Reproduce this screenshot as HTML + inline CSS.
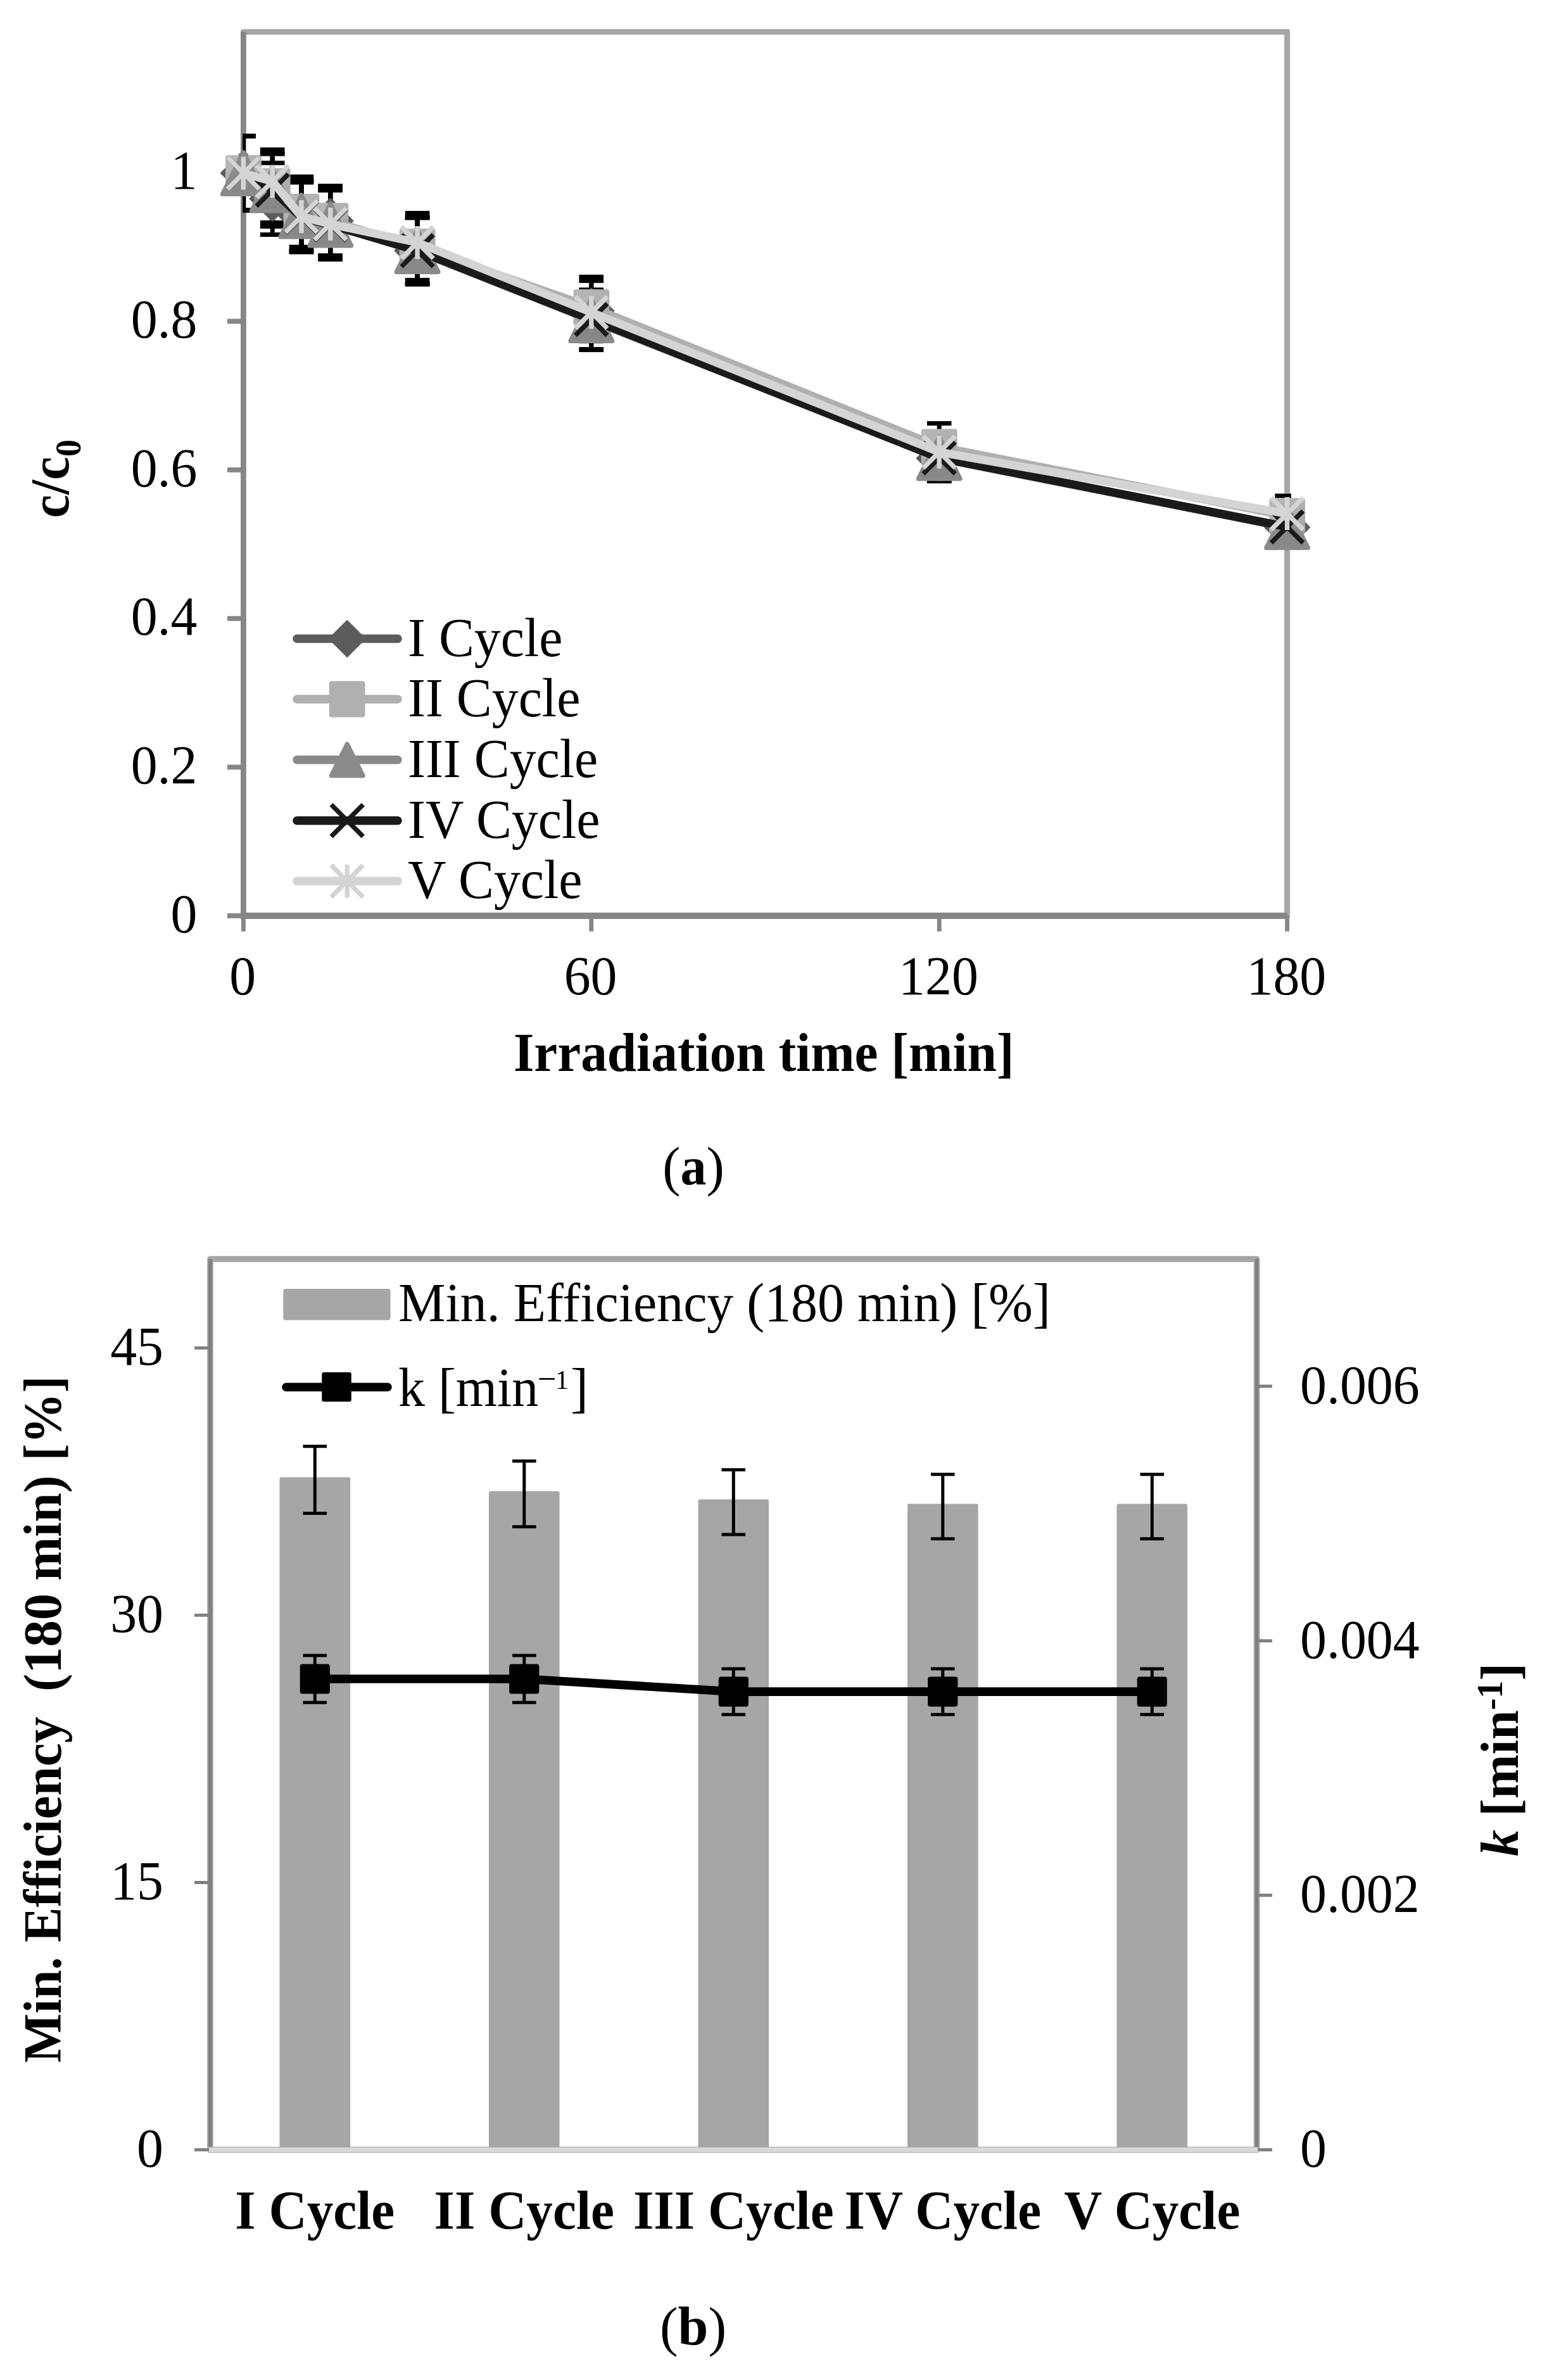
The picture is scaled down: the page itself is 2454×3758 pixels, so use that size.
<!DOCTYPE html>
<html lang="en">
<head>
<meta charset="utf-8">
<title>Figure: cycling stability</title>
<style>
html,body{margin:0;padding:0;background:#fff;}
svg{display:block;}
svg text{font-family:"Liberation Serif", "DejaVu Serif", serif;fill:#000;}
</style>
</head>
<body>
<svg width="2454" height="3758" viewBox="0 0 2454 3758">
<rect width="2454" height="3758" fill="#fff"/>
<g id="chartA">
<path d="M382.2 46.1H2034.9L2037.1 48.3V1448.5H2028.1V54.8H380V48.3Z" fill="#a6a6a6"/>
<line x1="384.4" y1="50.0" x2="384.4" y2="1450.9" stroke="#868686" stroke-width="8.8"/>
<line x1="380.0" y1="1446.0" x2="2032.9" y2="1446.0" stroke="#868686" stroke-width="9.8"/>
<line x1="359" y1="1446.0" x2="384.4" y2="1446.0" stroke="#868686" stroke-width="7.8"/>
<text transform="translate(311.5 1471.5) scale(0.975 1)" font-size="86" text-anchor="end">0</text>
<line x1="359" y1="1211.3" x2="384.4" y2="1211.3" stroke="#868686" stroke-width="7.8"/>
<text transform="translate(311.5 1236.8) scale(0.975 1)" font-size="86" text-anchor="end">0.2</text>
<line x1="359" y1="976.6" x2="384.4" y2="976.6" stroke="#868686" stroke-width="7.8"/>
<text transform="translate(311.5 1002.1) scale(0.975 1)" font-size="86" text-anchor="end">0.4</text>
<line x1="359" y1="742.0" x2="384.4" y2="742.0" stroke="#868686" stroke-width="7.8"/>
<text transform="translate(311.5 767.5) scale(0.975 1)" font-size="86" text-anchor="end">0.6</text>
<line x1="359" y1="507.3" x2="384.4" y2="507.3" stroke="#868686" stroke-width="7.8"/>
<text transform="translate(311.5 532.8) scale(0.975 1)" font-size="86" text-anchor="end">0.8</text>
<line x1="359" y1="272.6" x2="384.4" y2="272.6" stroke="#868686" stroke-width="7.8"/>
<text transform="translate(311.5 298.1) scale(0.975 1)" font-size="86" text-anchor="end">1</text>
<line x1="384.4" y1="1446.0" x2="384.4" y2="1470.7" stroke="#868686" stroke-width="6.9"/>
<text transform="translate(383.2 1570.3) scale(0.975 1)" font-size="86" text-anchor="middle">0</text>
<line x1="933.8" y1="1446.0" x2="933.8" y2="1470.7" stroke="#868686" stroke-width="6.9"/>
<text transform="translate(932.6 1570.3) scale(0.975 1)" font-size="86" text-anchor="middle">60</text>
<line x1="1483.2" y1="1446.0" x2="1483.2" y2="1470.7" stroke="#868686" stroke-width="6.9"/>
<text transform="translate(1482.0 1570.3) scale(0.975 1)" font-size="86" text-anchor="middle">120</text>
<line x1="2032.6" y1="1446.0" x2="2032.6" y2="1470.7" stroke="#868686" stroke-width="6.9"/>
<text transform="translate(2031.4 1570.3) scale(0.975 1)" font-size="86" text-anchor="middle">180</text>
<text transform="translate(1206.2 1690.7) scale(0.968 1)" font-size="86" text-anchor="middle" font-weight="bold">Irradiation time [min]</text>
<text transform="translate(108.1 756.0) rotate(-90) scale(0.968 1)" font-size="86" text-anchor="middle" font-weight="bold">c/c<tspan font-size="56" dy="19">0</tspan></text>
<defs>
<clipPath id="clipA"><rect x="383" y="50.4" width="1656" height="1395.6"/></clipPath>
<linearGradient id="gSq" x1="0" y1="0" x2="1" y2="1"><stop offset="0" stop-color="#b8b8b8"/><stop offset="0.55" stop-color="#b0b0b0"/><stop offset="1" stop-color="#a4a4a4"/></linearGradient>
<linearGradient id="gTr" x1="0" y1="0" x2="0" y2="1"><stop offset="0" stop-color="#909090"/><stop offset="1" stop-color="#868686"/></linearGradient>
</defs>
<g clip-path="url(#clipA)" stroke="#000" stroke-width="7" fill="none">
<path d="M365.1 214.8H403.7M384.4 214.8V332.0M365.1 332.0H403.7"/>
<path d="M410.9 257.2H449.5M430.2 257.2V370.4M410.9 370.4H449.5"/>
<path d="M456.7 285.8H495.3M476.0 285.8V396.2M456.7 396.2H495.3"/>
<path d="M502.4 293.9H541.0M521.8 293.9V403.7M502.4 403.7H541.0"/>
<path d="M639.8 343.3H678.4M659.1 343.3V448.3M639.8 448.3H678.4"/>
<path d="M914.5 443.2H953.1M933.8 443.2V538.8M914.5 538.8H953.1"/>
<path d="M1463.9 687.5H1502.5M1483.2 687.5V759.7M1463.9 759.7H1502.5"/>
<path d="M2013.3 801.9H2051.9M2032.6 801.9V863.3M2013.3 863.3H2051.9"/>
<path d="M365.1 214.8H403.7M384.4 214.8V332.0M365.1 332.0H403.7"/>
<path d="M410.9 236.2H449.5M430.2 236.2V351.4M410.9 351.4H449.5"/>
<path d="M456.7 278.9H495.3M476.0 278.9V390.1M456.7 390.1H495.3"/>
<path d="M502.4 293.7H541.0M521.8 293.7V403.5M502.4 403.5H541.0"/>
<path d="M639.8 336.6H678.4M659.1 336.6V442.2M639.8 442.2H678.4"/>
<path d="M914.5 437.2H953.1M933.8 437.2V533.2M914.5 533.2H953.1"/>
<path d="M1463.9 668.6H1502.5M1483.2 668.6V742.6M1463.9 742.6H1502.5"/>
<path d="M2013.3 783.0H2051.9M2032.6 783.0V846.2M2013.3 846.2H2051.9"/>
<path d="M365.1 214.8H403.7M384.4 214.8V332.0M365.1 332.0H403.7"/>
<path d="M410.9 242.6H449.5M430.2 242.6V357.2M410.9 357.2H449.5"/>
<path d="M456.7 285.6H495.3M476.0 285.6V396.2M456.7 396.2H495.3"/>
<path d="M502.4 300.3H541.0M521.8 300.3V409.5M502.4 409.5H541.0"/>
<path d="M639.8 343.9H678.4M659.1 343.9V448.9M639.8 448.9H678.4"/>
<path d="M914.5 458.4H953.1M933.8 458.4V552.4M914.5 552.4H953.1"/>
<path d="M1463.9 686.7H1502.5M1483.2 686.7V759.1M1463.9 759.1H1502.5"/>
<path d="M2013.3 801.4H2051.9M2032.6 801.4V862.8M2013.3 862.8H2051.9"/>
<path d="M365.1 214.8H403.7M384.4 214.8V332.0M365.1 332.0H403.7"/>
<path d="M410.9 242.9H449.5M430.2 242.9V357.5M410.9 357.5H449.5"/>
<path d="M456.7 287.9H495.3M476.0 287.9V398.1M456.7 398.1H495.3"/>
<path d="M502.4 300.4H541.0M521.8 300.4V409.6M502.4 409.6H541.0"/>
<path d="M639.8 343.3H678.4M659.1 343.3V448.3M639.8 448.3H678.4"/>
<path d="M914.5 457.4H953.1M933.8 457.4V551.6M914.5 551.6H953.1"/>
<path d="M1463.9 686.9H1502.5M1483.2 686.9V759.1M1463.9 759.1H1502.5"/>
<path d="M2013.3 801.3H2051.9M2032.6 801.3V862.7M2013.3 862.7H2051.9"/>
</g>
<polyline points="384.4,273.4 430.2,313.8 476.0,341.0 521.8,348.8 659.1,395.8 933.8,491.0 1483.2,723.6 2032.6,832.6" fill="none" stroke="#5c5c5c" stroke-width="13" stroke-linejoin="round" stroke-linecap="round"/>
<path d="M384.4 237.8L420.0 273.4L384.4 309.0L348.8 273.4Z" fill="#5c5c5c" stroke="#5c5c5c" stroke-width="2" stroke-linejoin="round"/>
<path d="M430.2 278.2L465.8 313.8L430.2 349.4L394.6 313.8Z" fill="#5c5c5c" stroke="#5c5c5c" stroke-width="2" stroke-linejoin="round"/>
<path d="M476.0 305.4L511.6 341.0L476.0 376.6L440.4 341.0Z" fill="#5c5c5c" stroke="#5c5c5c" stroke-width="2" stroke-linejoin="round"/>
<path d="M521.8 313.2L557.4 348.8L521.8 384.4L486.1 348.8Z" fill="#5c5c5c" stroke="#5c5c5c" stroke-width="2" stroke-linejoin="round"/>
<path d="M659.1 360.2L694.7 395.8L659.1 431.4L623.5 395.8Z" fill="#5c5c5c" stroke="#5c5c5c" stroke-width="2" stroke-linejoin="round"/>
<path d="M933.8 455.4L969.4 491.0L933.8 526.6L898.2 491.0Z" fill="#5c5c5c" stroke="#5c5c5c" stroke-width="2" stroke-linejoin="round"/>
<path d="M1483.2 688.0L1518.8 723.6L1483.2 759.2L1447.6 723.6Z" fill="#5c5c5c" stroke="#5c5c5c" stroke-width="2" stroke-linejoin="round"/>
<path d="M2032.6 797.0L2068.2 832.6L2032.6 868.2L1997.0 832.6Z" fill="#5c5c5c" stroke="#5c5c5c" stroke-width="2" stroke-linejoin="round"/>
<polyline points="384.4,273.4 430.2,293.8 476.0,334.5 521.8,348.6 659.1,389.4 933.8,485.2 1483.2,705.6 2032.6,814.6" fill="none" stroke="#b0b0b0" stroke-width="13" stroke-linejoin="round" stroke-linecap="round"/>
<rect x="356.0" y="245.0" width="56.8" height="56.8" rx="4" fill="url(#gSq)"/>
<rect x="401.8" y="265.4" width="56.8" height="56.8" rx="4" fill="url(#gSq)"/>
<rect x="447.6" y="306.1" width="56.8" height="56.8" rx="4" fill="url(#gSq)"/>
<rect x="493.4" y="320.2" width="56.8" height="56.8" rx="4" fill="url(#gSq)"/>
<rect x="630.7" y="361.0" width="56.8" height="56.8" rx="4" fill="url(#gSq)"/>
<rect x="905.4" y="456.8" width="56.8" height="56.8" rx="4" fill="url(#gSq)"/>
<rect x="1454.8" y="677.2" width="56.8" height="56.8" rx="4" fill="url(#gSq)"/>
<rect x="2004.2" y="786.2" width="56.8" height="56.8" rx="4" fill="url(#gSq)"/>
<polyline points="384.4,273.4 430.2,299.9 476.0,340.9 521.8,354.9 659.1,396.4 933.8,505.4 1483.2,722.9 2032.6,832.1" fill="none" stroke="#8a8a8a" stroke-width="13" stroke-linejoin="round" stroke-linecap="round"/>
<path d="M384.4 240.4L417.4 306.4H351.4Z" fill="url(#gTr)" stroke="#8a8a8a" stroke-width="7" stroke-linejoin="round"/>
<path d="M430.2 266.9L463.2 332.9H397.2Z" fill="url(#gTr)" stroke="#8a8a8a" stroke-width="7" stroke-linejoin="round"/>
<path d="M476.0 307.9L509.0 373.9H443.0Z" fill="url(#gTr)" stroke="#8a8a8a" stroke-width="7" stroke-linejoin="round"/>
<path d="M521.8 321.9L554.8 387.9H488.8Z" fill="url(#gTr)" stroke="#8a8a8a" stroke-width="7" stroke-linejoin="round"/>
<path d="M659.1 363.4L692.1 429.4H626.1Z" fill="url(#gTr)" stroke="#8a8a8a" stroke-width="7" stroke-linejoin="round"/>
<path d="M933.8 472.4L966.8 538.4H900.8Z" fill="url(#gTr)" stroke="#8a8a8a" stroke-width="7" stroke-linejoin="round"/>
<path d="M1483.2 689.9L1516.2 755.9H1450.2Z" fill="url(#gTr)" stroke="#8a8a8a" stroke-width="7" stroke-linejoin="round"/>
<path d="M2032.6 799.1L2065.6 865.1H1999.6Z" fill="url(#gTr)" stroke="#8a8a8a" stroke-width="7" stroke-linejoin="round"/>
<polyline points="384.4,273.4 430.2,300.2 476.0,343.0 521.8,355.0 659.1,395.8 933.8,504.5 1483.2,723.0 2032.6,832.0" fill="none" stroke="#1a1a1a" stroke-width="13" stroke-linejoin="round" stroke-linecap="round"/>
<path d="M359.2 248.2L409.6 298.6M359.2 298.6L409.6 248.2" stroke="#1a1a1a" stroke-width="7.4" fill="none"/>
<path d="M405.0 275.0L455.4 325.4M405.0 325.4L455.4 275.0" stroke="#1a1a1a" stroke-width="7.4" fill="none"/>
<path d="M450.8 317.8L501.2 368.2M450.8 368.2L501.2 317.8" stroke="#1a1a1a" stroke-width="7.4" fill="none"/>
<path d="M496.6 329.8L547.0 380.2M496.6 380.2L547.0 329.8" stroke="#1a1a1a" stroke-width="7.4" fill="none"/>
<path d="M633.9 370.6L684.3 421.0M633.9 421.0L684.3 370.6" stroke="#1a1a1a" stroke-width="7.4" fill="none"/>
<path d="M908.6 479.3L959.0 529.7M908.6 529.7L959.0 479.3" stroke="#1a1a1a" stroke-width="7.4" fill="none"/>
<path d="M1458.0 697.8L1508.4 748.2M1458.0 748.2L1508.4 697.8" stroke="#1a1a1a" stroke-width="7.4" fill="none"/>
<path d="M2007.4 806.8L2057.8 857.2M2007.4 857.2L2057.8 806.8" stroke="#1a1a1a" stroke-width="7.4" fill="none"/>
<polyline points="384.4,273.4 430.2,286.5 476.0,342.0 521.8,353.8 659.1,383.0 933.8,493.3 1483.2,713.8 2032.6,811.1" fill="none" stroke="#d4d4d4" stroke-width="13" stroke-linejoin="round" stroke-linecap="round"/>
<path d="M359.2 248.2L409.6 298.6M359.2 298.6L409.6 248.2M384.4 247.4V299.4" stroke="#d4d4d4" stroke-width="7.4" fill="none"/>
<path d="M405.0 261.3L455.4 311.7M405.0 311.7L455.4 261.3M430.2 260.5V312.5" stroke="#d4d4d4" stroke-width="7.4" fill="none"/>
<path d="M450.8 316.8L501.2 367.2M450.8 367.2L501.2 316.8M476.0 316.0V368.0" stroke="#d4d4d4" stroke-width="7.4" fill="none"/>
<path d="M496.6 328.6L547.0 379.0M496.6 379.0L547.0 328.6M521.8 327.8V379.8" stroke="#d4d4d4" stroke-width="7.4" fill="none"/>
<path d="M633.9 357.8L684.3 408.2M633.9 408.2L684.3 357.8M659.1 357.0V409.0" stroke="#d4d4d4" stroke-width="7.4" fill="none"/>
<path d="M908.6 468.1L959.0 518.5M908.6 518.5L959.0 468.1M933.8 467.3V519.3" stroke="#d4d4d4" stroke-width="7.4" fill="none"/>
<path d="M1458.0 688.6L1508.4 739.0M1458.0 739.0L1508.4 688.6M1483.2 687.8V739.8" stroke="#d4d4d4" stroke-width="7.4" fill="none"/>
<path d="M2007.4 785.9L2057.8 836.3M2007.4 836.3L2057.8 785.9M2032.6 785.1V837.1" stroke="#d4d4d4" stroke-width="7.4" fill="none"/>
<line x1="469" y1="1008.5" x2="628" y2="1008.5" stroke="#5c5c5c" stroke-width="13.6" stroke-linecap="round"/>
<path d="M548.2 980.0L576.7 1008.5L548.2 1037.0L519.7 1008.5Z" fill="#5c5c5c" stroke="#5c5c5c" stroke-width="2" stroke-linejoin="round"/>
<text transform="translate(644.0 1035.5) scale(0.975 1)" font-size="86">I Cycle</text>
<line x1="469" y1="1104.0" x2="628" y2="1104.0" stroke="#b0b0b0" stroke-width="13.6" stroke-linecap="round"/>
<rect x="519.8" y="1075.6" width="56.8" height="56.8" rx="4" fill="#b0b0b0"/>
<text transform="translate(644.0 1131.0) scale(0.975 1)" font-size="86">II Cycle</text>
<line x1="469" y1="1199.8" x2="628" y2="1199.8" stroke="#8a8a8a" stroke-width="13.6" stroke-linecap="round"/>
<path d="M548.2 1174.8L573.2 1224.8H523.2Z" fill="#8a8a8a" stroke="#8a8a8a" stroke-width="7" stroke-linejoin="round"/>
<text transform="translate(644.0 1226.8) scale(0.975 1)" font-size="86">III Cycle</text>
<line x1="469" y1="1295.7" x2="628" y2="1295.7" stroke="#1a1a1a" stroke-width="13.6" stroke-linecap="round"/>
<path d="M523.0 1270.5L573.4 1320.9M523.0 1320.9L573.4 1270.5" stroke="#1a1a1a" stroke-width="7.4" fill="none"/>
<text transform="translate(644.0 1322.7) scale(0.975 1)" font-size="86">IV Cycle</text>
<line x1="469" y1="1391.3" x2="628" y2="1391.3" stroke="#d4d4d4" stroke-width="13.6" stroke-linecap="round"/>
<path d="M523.0 1366.1L573.4 1416.5M523.0 1416.5L573.4 1366.1M548.2 1365.3V1417.3" stroke="#d4d4d4" stroke-width="7.4" fill="none"/>
<text transform="translate(644.0 1418.3) scale(0.975 1)" font-size="86">V Cycle</text>
<text transform="translate(1095 1870.4) scale(0.975 1)" text-anchor="middle" font-size="87"><tspan dy="0.5">(</tspan><tspan font-weight="bold" font-size="84" dy="-0.5">a</tspan><tspan dy="0.5">)</tspan></text>
</g>
<g id="chartB">
<path d="M332.0 3394.5V1988.0H1984.6V3394.5" fill="none" stroke="#a6a6a6" stroke-width="9.6" stroke-linejoin="round"/>
<path d="M441.5 3394.5V2335.4Q441.5 2332.4 444.5 2332.4H550.1Q553.1 2332.4 553.1 2335.4V3394.5Z" fill="#a6a6a6"/>
<path d="M772.0 3394.5V2357.6Q772.0 2354.6 775.0 2354.6H880.6Q883.6 2354.6 883.6 2357.6V3394.5Z" fill="#a6a6a6"/>
<path d="M1102.5 3394.5V2370.6Q1102.5 2367.6 1105.5 2367.6H1211.1Q1214.1 2367.6 1214.1 2370.6V3394.5Z" fill="#a6a6a6"/>
<path d="M1433.0 3394.5V2377.6Q1433.0 2374.6 1436.0 2374.6H1541.6Q1544.6 2374.6 1544.6 2377.6V3394.5Z" fill="#a6a6a6"/>
<path d="M1763.5 3394.5V2377.6Q1763.5 2374.6 1766.5 2374.6H1872.1Q1875.1 2374.6 1875.1 2377.6V3394.5Z" fill="#a6a6a6"/>
<line x1="332.0" y1="1988.0" x2="332.0" y2="3397.0" stroke="#808080" stroke-width="6"/>
<line x1="1984.6" y1="1988.0" x2="1984.6" y2="3397.0" stroke="#808080" stroke-width="5.4"/>
<rect x="329.0" y="3390.2" width="1657.6" height="8.6" fill="#d9d9d9" stroke="#a6a6a6" stroke-width="1"/>
<line x1="307" y1="3394.5" x2="330.0" y2="3394.5" stroke="#808080" stroke-width="5"/>
<text transform="translate(258.0 3421.3) scale(0.975 1)" font-size="86" text-anchor="end">0</text>
<line x1="307" y1="2972.5" x2="330.0" y2="2972.5" stroke="#808080" stroke-width="5"/>
<text transform="translate(258.0 2999.3) scale(0.975 1)" font-size="86" text-anchor="end">15</text>
<line x1="307" y1="2550.4" x2="330.0" y2="2550.4" stroke="#808080" stroke-width="5"/>
<text transform="translate(258.0 2577.2) scale(0.975 1)" font-size="86" text-anchor="end">30</text>
<line x1="307" y1="2128.4" x2="330.0" y2="2128.4" stroke="#808080" stroke-width="5"/>
<text transform="translate(258.0 2155.2) scale(0.975 1)" font-size="86" text-anchor="end">45</text>
<line x1="1986.6" y1="3394.5" x2="2009" y2="3394.5" stroke="#808080" stroke-width="5"/>
<text transform="translate(2053.0 3421.3) scale(0.975 1)" font-size="86">0</text>
<line x1="1986.6" y1="2992.6" x2="2009" y2="2992.6" stroke="#808080" stroke-width="5"/>
<text transform="translate(2053.0 3019.4) scale(0.975 1)" font-size="86">0.002</text>
<line x1="1986.6" y1="2590.8" x2="2009" y2="2590.8" stroke="#808080" stroke-width="5"/>
<text transform="translate(2053.0 2617.6) scale(0.975 1)" font-size="86">0.004</text>
<line x1="1986.6" y1="2188.9" x2="2009" y2="2188.9" stroke="#808080" stroke-width="5"/>
<text transform="translate(2053.0 2215.7) scale(0.975 1)" font-size="86">0.006</text>
<g stroke="#000" stroke-width="5" fill="none">
<path d="M478.5 2283.8H516.1M497.3 2283.8V2389.6M478.5 2389.6H516.1"/>
<path d="M809.0 2307.1H846.6M827.8 2307.1V2410.7M809.0 2410.7H846.6"/>
<path d="M1139.5 2320.7H1177.1M1158.3 2320.7V2423.0M1139.5 2423.0H1177.1"/>
<path d="M1470.0 2328.1H1507.6M1488.8 2328.1V2429.7M1470.0 2429.7H1507.6"/>
<path d="M1800.5 2328.1H1838.1M1819.3 2328.1V2429.7M1800.5 2429.7H1838.1"/>
<path d="M478.5 2613.9H516.1M497.3 2613.9V2688.2M478.5 2688.2H516.1"/>
<path d="M809.0 2613.9H846.6M827.8 2613.9V2688.2M809.0 2688.2H846.6"/>
<path d="M1139.5 2635.0H1177.1M1158.3 2635.0V2707.3M1139.5 2707.3H1177.1"/>
<path d="M1470.0 2635.0H1507.6M1488.8 2635.0V2707.3M1470.0 2707.3H1507.6"/>
<path d="M1800.5 2635.0H1838.1M1819.3 2635.0V2707.3M1800.5 2707.3H1838.1"/>
</g>
<polyline points="497.3,2651.0 827.8,2651.0 1158.3,2671.1 1488.8,2671.1 1819.3,2671.1" fill="none" stroke="#000" stroke-width="13.6" stroke-linejoin="round"/>
<rect x="473.7" y="2627.4" width="47.2" height="47.2" rx="4" fill="#000"/>
<rect x="804.2" y="2627.4" width="47.2" height="47.2" rx="4" fill="#000"/>
<rect x="1134.7" y="2647.5" width="47.2" height="47.2" rx="4" fill="#000"/>
<rect x="1465.2" y="2647.5" width="47.2" height="47.2" rx="4" fill="#000"/>
<rect x="1795.7" y="2647.5" width="47.2" height="47.2" rx="4" fill="#000"/>
<text transform="translate(497.3 3518.5) scale(0.968 1)" font-size="86" text-anchor="middle" font-weight="bold">I Cycle</text>
<text transform="translate(827.8 3518.5) scale(0.968 1)" font-size="86" text-anchor="middle" font-weight="bold">II Cycle</text>
<text transform="translate(1158.3 3518.5) scale(0.968 1)" font-size="86" text-anchor="middle" font-weight="bold">III Cycle</text>
<text transform="translate(1488.8 3518.5) scale(0.968 1)" font-size="86" text-anchor="middle" font-weight="bold">IV Cycle</text>
<text transform="translate(1819.3 3518.5) scale(0.968 1)" font-size="86" text-anchor="middle" font-weight="bold">V Cycle</text>
<rect x="447.3" y="2035" width="169.3" height="49.4" rx="4" fill="#a6a6a6"/>
<text transform="translate(629.0 2085.7) scale(0.975 1)" font-size="86">Min. Efficiency (180 min) [%]</text>
<line x1="452" y1="2190.3" x2="612" y2="2190.3" stroke="#000" stroke-width="13.6" stroke-linecap="round"/>
<rect x="508.3" y="2166.8" width="46.5" height="46.5" rx="3" fill="#000"/>
<text transform="translate(629.0 2220.0) scale(0.975 1)" font-size="86">k [min<tspan font-size="54" dy="-25.5" dx="-1.5">−</tspan><tspan font-size="43" dy="-2" dx="-1.5">1</tspan><tspan dy="27.5" dx="3">]</tspan></text>
<text transform="translate(95.8 3257.0) rotate(-90) scale(0.97 1)" font-size="85" font-weight="bold">Min.</text>
<text transform="translate(95.8 3067.0) rotate(-90) scale(0.981 1)" font-size="85" font-weight="bold">Efficiency</text>
<text transform="translate(95.8 2671.0) rotate(-90) scale(0.996 1)" font-size="85" font-weight="bold">(180</text>
<text transform="translate(95.8 2496.0) rotate(-90) scale(0.979 1)" font-size="85" font-weight="bold">min)</text>
<text transform="translate(95.8 2306.6) rotate(-90) scale(0.9465 1)" font-size="85" font-weight="bold">[%]</text>
<text transform="translate(2396.8 2778.5) rotate(-90) scale(1.0 1)" font-size="84" text-anchor="middle" font-weight="bold"><tspan font-style="italic">k</tspan> [min<tspan font-size="56" dy="-25">-1</tspan><tspan dy="25">]</tspan></text>
<text transform="translate(1094.5 3702.8) scale(0.99 1)" text-anchor="middle" font-size="87">(<tspan font-weight="bold" font-size="87" dy="-0.4">b</tspan><tspan dy="0.4">)</tspan></text>
</g>
</svg>
</body>
</html>
